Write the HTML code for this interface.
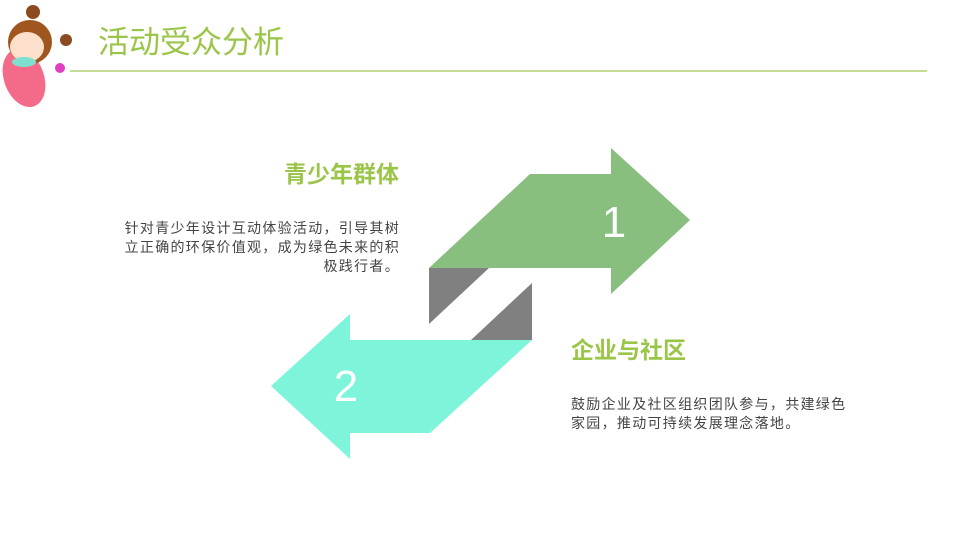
<!DOCTYPE html>
<html><head><meta charset="utf-8"><style>
body{margin:0;width:960px;height:540px;background:#fff;position:relative;overflow:hidden;font-family:"Liberation Sans","Noto Sans CJK SC",sans-serif}
.t{position:absolute;white-space:nowrap}
</style></head><body>
<svg width="960" height="540" style="position:absolute;left:0;top:0">
<line x1="70" y1="71" x2="927" y2="71" stroke="#c5dc96" stroke-width="2"/>
<!-- girl -->
<ellipse cx="24" cy="78" rx="20" ry="30" fill="#f46b8a" transform="rotate(-20 24 78)"/>
<circle cx="33" cy="12" r="7" fill="#8b4a1f"/>
<circle cx="30" cy="42" r="22" fill="#a0561f"/>
<ellipse cx="27" cy="47" rx="17" ry="15" fill="#fde0cc"/>
<circle cx="66" cy="40" r="6" fill="#8b4a1f"/>
<ellipse cx="24" cy="62" rx="12" ry="5" fill="#7fe0d0"/>
<circle cx="60" cy="68" r="5" fill="#e040c0"/>
<polygon points="429,268 530,174 611,174 611,148 690,220 611,294 611,268" fill="#88bf7e"/>
<polygon points="429,268 489,268 429,324" fill="#808080"/>
<polygon points="532,283 532,340 471,340" fill="#808080"/>
<polygon points="532,340 350,340 350,314 271,386 350,459 350,433 430,433" fill="#7ef5da"/>
<text x="614" y="237" font-size="44" fill="#fff" text-anchor="middle" font-family="Liberation Sans,sans-serif">1</text>
<text x="346" y="401" font-size="44" fill="#fff" text-anchor="middle" font-family="Liberation Sans,sans-serif">2</text>
</svg>
<div class="t" style="left:98px;top:17px;font-size:31px;color:#9ac548">活动受众分析</div>
<div class="t" style="left:284px;top:155px;font-size:23px;font-weight:bold;color:#9ac548">青少年群体</div>
<div style="position:absolute;left:60px;top:219px;width:340px;text-align:right;font-size:14px;letter-spacing:1.3px;line-height:19px;color:#444">针对青少年设计互动体验活动，引导其树<br>立正确的环保价值观，成为绿色未来的积<br>极践行者。</div>
<div class="t" style="left:571px;top:331px;font-size:23px;font-weight:bold;color:#9ac548">企业与社区</div>
<div style="position:absolute;left:571px;top:395px;width:340px;font-size:14px;letter-spacing:1.3px;line-height:19px;color:#444">鼓励企业及社区组织团队参与，共建绿色<br>家园，推动可持续发展理念落地。</div>
</body></html>
